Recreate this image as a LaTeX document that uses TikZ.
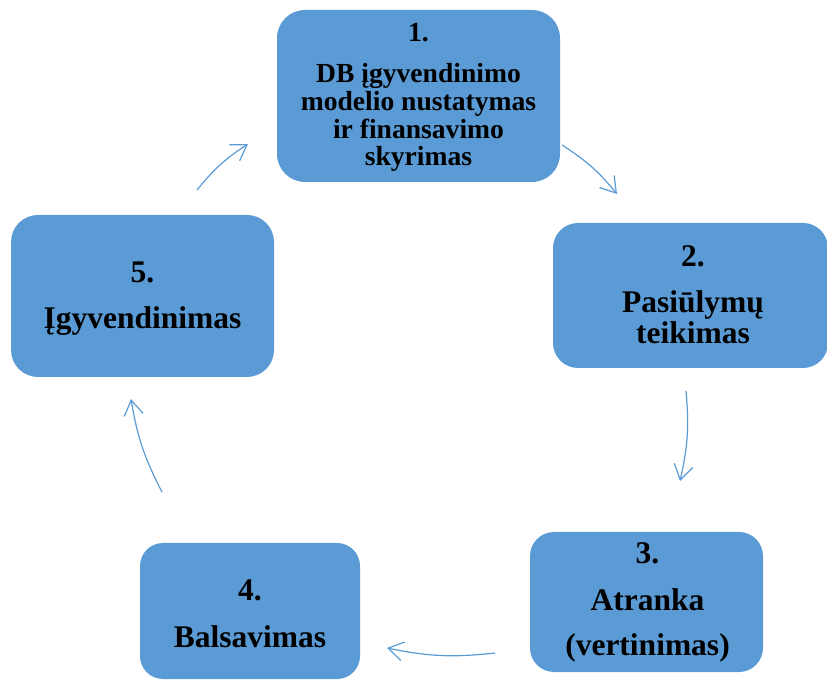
\documentclass[tikz,border=0pt]{standalone}
\usepackage{fontspec}
\setmainfont{Liberation Serif}
\usetikzlibrary{arrows.meta}
\definecolor{boxblue}{HTML}{5B9BD5}
\begin{document}
\begin{tikzpicture}[x=1pt,y=1pt,
  stepbox/.style={fill=boxblue, draw=none, inner sep=0pt},
  lbl/.style={anchor=base, inner sep=0pt, font=\bfseries\fontsize{31.5}{32}\selectfont},
  lblsmall/.style={anchor=base, inner sep=0pt, font=\bfseries\fontsize{27.6}{28}\selectfont},
  flow/.style={draw=boxblue, line width=1.2pt, -{Straight Barb[length=15pt,width=19pt,line width=1.2pt]}}]
\useasboundingbox (0,0) rectangle (827,680);
% boxes
\node[stepbox, minimum width=283pt, minimum height=172pt, rounded corners=28pt] (b1) at (418.5,584) {};
\node[stepbox, minimum width=275pt, minimum height=145pt, rounded corners=25pt] (b2) at (690.5,384.5) {};
\node[stepbox, minimum width=233pt, minimum height=140pt, rounded corners=24pt] (b3) at (646.5,78) {};
\node[stepbox, minimum width=220pt, minimum height=136pt, rounded corners=23pt] (b4) at (250,69) {};
\node[stepbox, minimum width=263pt, minimum height=162pt, rounded corners=27pt] (b5) at (142.5,384) {};
% texts box 1
\node[lblsmall] (t1a) at (418.5,638) {1.};
\node[lblsmall] (t1b) at (418.5,597) {DB įgyvendinimo};
\node[lblsmall] (t1c) at (418.5,569) {modelio nustatymas};
\node[lblsmall] (t1d) at (418.5,541.5) {ir finansavimo};
\node[lblsmall] (t1e) at (418.5,514) {skyrimas};
% box 2
\node[lbl] (t2a) at (693,413) {2.};
\node[lbl] (t2b) at (693,367) {Pasiūlymų};
\node[lbl] (t2c) at (693,336) {teikimas};
% box 3
\node[lbl] (t3a) at (647.5,116) {3.};
\node[lbl] (t3b) at (647.5,70) {Atranka};
\node[lbl] (t3c) at (647.5,25) {(vertinimas)};
% box 4
\node[lbl] (t4a) at (250,79) {4.};
\node[lbl] (t4b) at (250,33) {Balsavimas};
% box 5
\node[lbl] (t5a) at (142.5,397) {5.};
\node[lbl] (t5b) at (142.5,351) {Įgyvendinimas};
% arrow end points
\coordinate (a1s) at (197,490); \coordinate (a1e) at (248,536);
\coordinate (a2s) at (562,535); \coordinate (a2e) at (617,486);
\coordinate (a3s) at (686,289); \coordinate (a3e) at (680,199);
\coordinate (a4s) at (495,27);  \coordinate (a4e) at (387,32);
\coordinate (a5s) at (162,188); \coordinate (a5e) at (131,281);
\draw[flow] (a1s) to[bend left=9] (a1e);
\draw[flow] (a2s) to[bend left=9] (a2e);
\draw[flow] (a3s) to[bend left=9] (a3e);
\draw[flow] (a4s) to[bend left=9] (a4e);
\draw[flow] (a5s) to[bend left=9] (a5e);
\end{tikzpicture}
\end{document}
